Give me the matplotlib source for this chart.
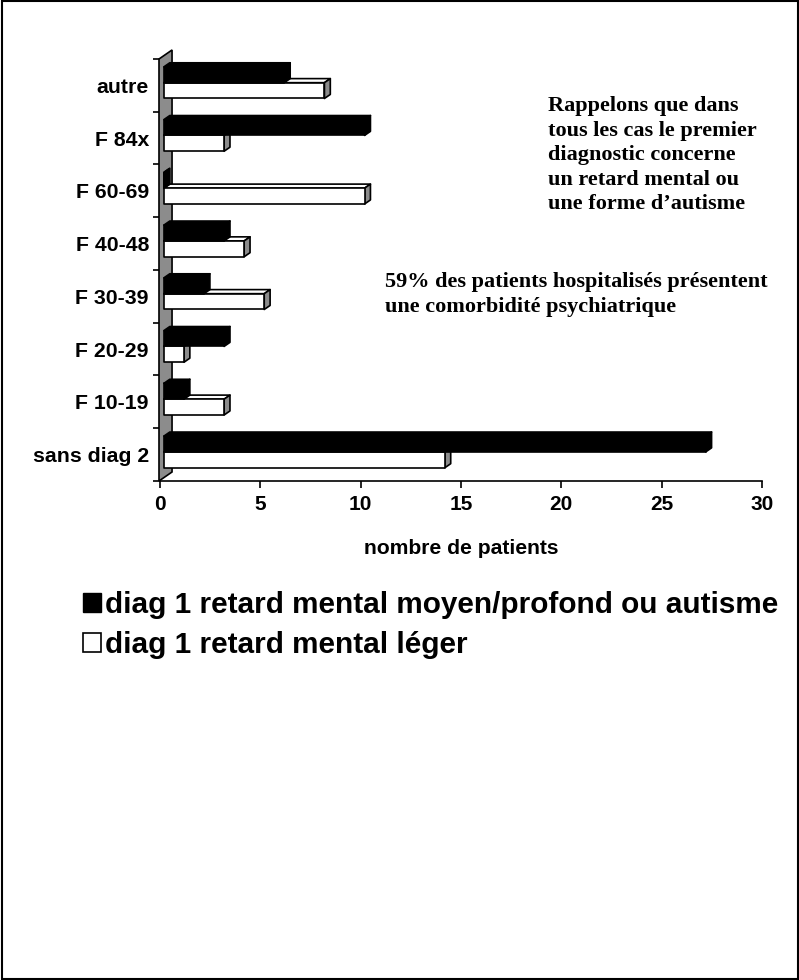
import matplotlib
matplotlib.use('Agg')
import matplotlib.pyplot as plt
from matplotlib.patches import Polygon, Rectangle, Patch

categories = ['sans diag 2', 'F 10-19', 'F 20-29', 'F 30-39', 'F 40-48', 'F 60-69', 'F 84x', 'autre']
moyen_profond = [27, 1, 3, 2, 3, 0, 10, 6]
leger = [14, 3, 1, 5, 4, 10, 3, 8]
x_ticks = [0, 5, 10, 15, 20, 25, 30]
series_names = ['diag 1 retard mental moyen/profond ou autisme', 'diag 1 retard mental léger']
note1 = ['Rappelons que dans', 'tous les cas le premier', 'diagnostic concerne',
         'un retard mental ou', 'une forme d\u2019autisme']
note2 = ['59% des patients hospitalisés présentent', 'une comorbidité psychiatrique']

W, H = 799, 980
plt.rcParams['font.family'] = ['Liberation Sans', 'DejaVu Sans']
plt.rcParams['font.weight'] = 'bold'

fig = plt.figure(figsize=(W / 100, H / 100), dpi=100)
ax = fig.add_axes([160 / W, 1 - 481 / H, 602 / W, 422 / H])
ax.set_xlim(0, 30)
ax.set_ylim(-0.5, 7.5)

# effet 3D : decalage par unite de profondeur
DX, DY = 0.65, 0.171
D0, D1 = 0.3, 0.75
HB = 0.3


def bar3d(v, y0, y1, front, top, side):
    fx, fy = D0 * DX, D0 * DY
    bx, by = D1 * DX, D1 * DY
    kw = dict(edgecolor='black', linewidth=1.2, joinstyle='round', clip_on=False, zorder=3)
    ax.add_patch(Polygon([(fx, y1 + fy), (v + fx, y1 + fy), (v + bx, y1 + by), (bx, y1 + by)],
                         facecolor=top, **kw))
    ax.add_patch(Polygon([(v + fx, y0 + fy), (v + bx, y0 + by), (v + bx, y1 + by), (v + fx, y1 + fy)],
                         facecolor=side, **kw))
    ax.add_patch(Polygon([(fx, y0 + fy), (v + fx, y0 + fy), (v + fx, y1 + fy), (fx, y1 + fy)],
                         facecolor=front, **kw))


# mur gris a gauche
x_w = -0.05
ax.add_patch(Polygon([(x_w, -0.5), (x_w, 7.5), (x_w + DX, 7.5 + DY), (x_w + DX, -0.5 + DY)],
                     facecolor='#8c8c8c', edgecolor='black', linewidth=1.2, clip_on=False, zorder=2))

for i in range(len(categories)):
    bar3d(leger[i], i - HB, i, 'white', 'white', '#8c8c8c')
    bar3d(moyen_profond[i], i, i + HB, 'black', 'black', 'black')

for s in ['left', 'top', 'right']:
    ax.spines[s].set_visible(False)
ax.spines['bottom'].set_linewidth(1.2)

ax.set_yticks(range(len(categories)))
ax.set_yticklabels(categories, fontsize=15.3, fontweight='bold')
ax.set_yticks([i - 0.5 for i in range(len(categories) + 1)], minor=True)
ax.tick_params(axis='y', which='major', length=0, pad=8)
ax.tick_params(axis='y', which='minor', length=5, width=1.2)
ax.set_xticks(x_ticks)
ax.set_xticklabels([str(t) for t in x_ticks], fontsize=15, fontweight='bold')
ax.tick_params(axis='x', length=5, width=1.2, pad=5)

fig.text(461 / W, 1 - 548 / H, 'nombre de patients', ha='center', va='center',
         fontsize=15.2, fontweight='bold')

for k, line in enumerate(note1):
    fig.text(548 / W, 1 - (106 + 24.6 * k) / H, line, ha='left', va='center',
             family='Liberation Serif', fontsize=16, fontweight='bold')
for k, line in enumerate(note2):
    fig.text(385 / W, 1 - (282 + 24.6 * k) / H, line, ha='left', va='center',
             family='Liberation Serif', fontsize=16, fontweight='bold')

handles = [Patch(facecolor='black', edgecolor='black'),
           Patch(facecolor='white', edgecolor='black', linewidth=1.2)]
fig.legend(handles, series_names, loc='upper left', bbox_to_anchor=(68 / W, 1 - 576 / H),
           frameon=False, handlelength=0.62, handleheight=0.62,
           handletextpad=0.12, labelspacing=0.4, borderpad=0, prop={'weight': 'bold', 'size': 21.4})

fig.add_artist(Rectangle((1.5 / W, 1.5 / H), 1 - 3 / W, 1 - 3 / H, transform=fig.transFigure,
                         fill=False, edgecolor='black', linewidth=1.5))

fig.savefig('out.png', dpi=100)
